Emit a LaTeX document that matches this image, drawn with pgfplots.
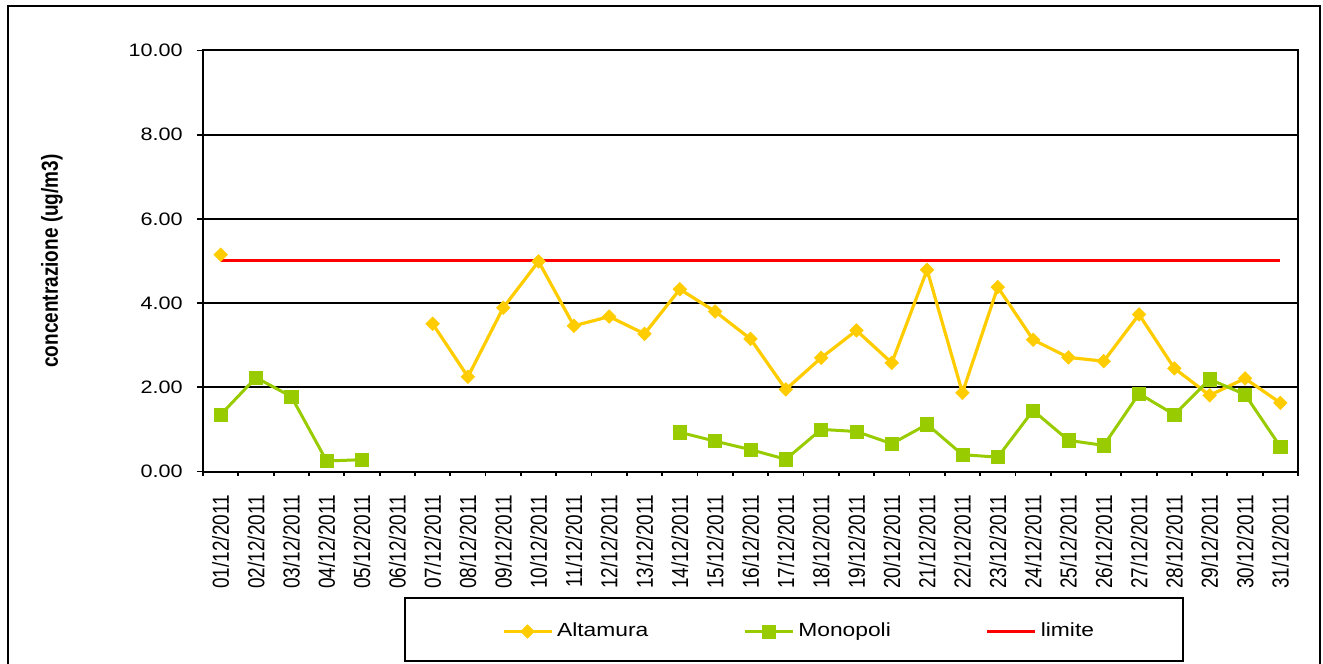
\documentclass[border=0pt]{standalone}
\usepackage{pgfplots}
\pgfplotsset{compat=1.18}
\usepackage{fontspec}
\setmainfont{Liberation Sans}
\definecolor{altam}{HTML}{FFCC00}
\definecolor{monop}{HTML}{99CC00}
\definecolor{lim}{HTML}{FF0000}
% the original chart is stretched sideways, so glyphs are widened / heightened
\newcommand\wide[1]{\scalebox{1.2}[1]{#1}}
\newcommand\tall[1]{\scalebox{1}[1.22]{#1}}
\newcommand\dd[1]{\tall{#1/12/2011}}

\begin{document}
\begin{tikzpicture}
\begin{axis}[
  scale only axis,
  width=547.5pt, height=210.5pt,
  xmin=0.5, xmax=31.5, ymin=0, ymax=10,
  axis line style={line width=1pt},
  tick pos=left,
  tick align=outside,
  major tick length=3pt,
  minor tick length=2pt,
  ytick={0,2,4,6,8,10},
  yticklabels={\wide{0.00},\wide{2.00},\wide{4.00},\wide{6.00},\wide{8.00},\wide{10.00}},
  y tick style={black, line width=0.9pt},
  yticklabel style={anchor=east, inner sep=0pt, font=\fontsize{9}{11}\selectfont},
  yticklabel shift=7pt,
  ymajorgrids,
  major grid style={black, line width=1pt},
  xtick={1,...,31},
  xticklabels={\dd{01},\dd{02},\dd{03},\dd{04},\dd{05},\dd{06},\dd{07},\dd{08},\dd{09},\dd{10},
    \dd{11},\dd{12},\dd{13},\dd{14},\dd{15},\dd{16},\dd{17},\dd{18},\dd{19},\dd{20},
    \dd{21},\dd{22},\dd{23},\dd{24},\dd{25},\dd{26},\dd{27},\dd{28},\dd{29},\dd{30},\dd{31}},
  major x tick style={draw=none},
  minor xtick={0.5,1.5,...,31.5},
  minor x tick style={black, line width=0.9pt},
  xticklabel style={rotate=90, anchor=east, inner sep=0pt, font=\fontsize{9.5}{11}\selectfont},
  xticklabel shift=8.5pt,
  ylabel={\tall{\bfseries concentrazione (ug/m3)}},
  every axis y label/.style={at={(axis description cs:-0.1379,0.5)}, rotate=90, anchor=center,
    font=\fontsize{9.5}{11}\selectfont},
  unbounded coords=jump,
  legend image code/.code={\draw[mark repeat=2,mark phase=2,#1] plot coordinates {(0pt,0pt) (12pt,0pt) (24pt,0pt)};},
  legend columns=3,
  legend style={draw=none, fill=none, at={(axis description cs:0.5452,-0.380)}, anchor=center,
    font=\fontsize{9.5}{11}\selectfont,
    /tikz/every even column/.append style={column sep=45.5pt}},
]
% limit line drawn first so the series lie on top of it
\addplot[lim, line width=1.5pt, forget plot] coordinates {(1,5) (31,5)};

\addplot[altam, line width=1.6pt, mark=square*, mark size=2.4pt,
  mark options={rotate=45, solid, line width=0.3pt}] coordinates {
  (1,5.15) (2,nan) (3,nan) (4,nan) (5,nan) (6,nan)
  (7,3.51) (8,2.25) (9,3.89) (10,4.99) (11,3.46) (12,3.68) (13,3.27)
  (14,4.33) (15,3.80) (16,3.15) (17,1.95) (18,2.70) (19,3.35) (20,2.58)
  (21,4.79) (22,1.87) (23,4.38) (24,3.13) (25,2.71) (26,2.62) (27,3.73)
  (28,2.45) (29,1.81) (30,2.21) (31,1.63)
};
\addlegendentry{\wide{Altamura}}

\addplot[monop, line width=1.5pt, mark=square*, mark size=3.3pt,
  mark options={solid, line width=0.3pt}] coordinates {
  (1,1.35) (2,2.23) (3,1.78) (4,0.25) (5,0.28)
  (6,nan) (7,nan) (8,nan) (9,nan) (10,nan) (11,nan) (12,nan) (13,nan)
  (14,0.93) (15,0.72) (16,0.52) (17,0.29) (18,1.00) (19,0.95) (20,0.66)
  (21,1.12) (22,0.40) (23,0.34) (24,1.45) (25,0.74) (26,0.62) (27,1.85)
  (28,1.35) (29,2.19) (30,1.83) (31,0.59)
};
\addlegendentry{\wide{Monopoli}}

\addlegendimage{lim, line width=1.5pt}
\addlegendentry{\wide{limite}}
\end{axis}
% outer chart frame (its bottom edge lies below the page) and legend box
\draw[line width=1pt] (-97.5pt,-130pt) -- (-97.5pt,232.75pt) -- (558.5pt,232.75pt) -- (558.5pt,-130pt);
\draw[line width=1pt] (101pt,-63.25pt) rectangle (490pt,-94.75pt);
\pgfresetboundingbox
\path[use as bounding box] (-101.5pt,-96.25pt) rectangle (560pt,235.75pt);
\end{tikzpicture}
\end{document}
